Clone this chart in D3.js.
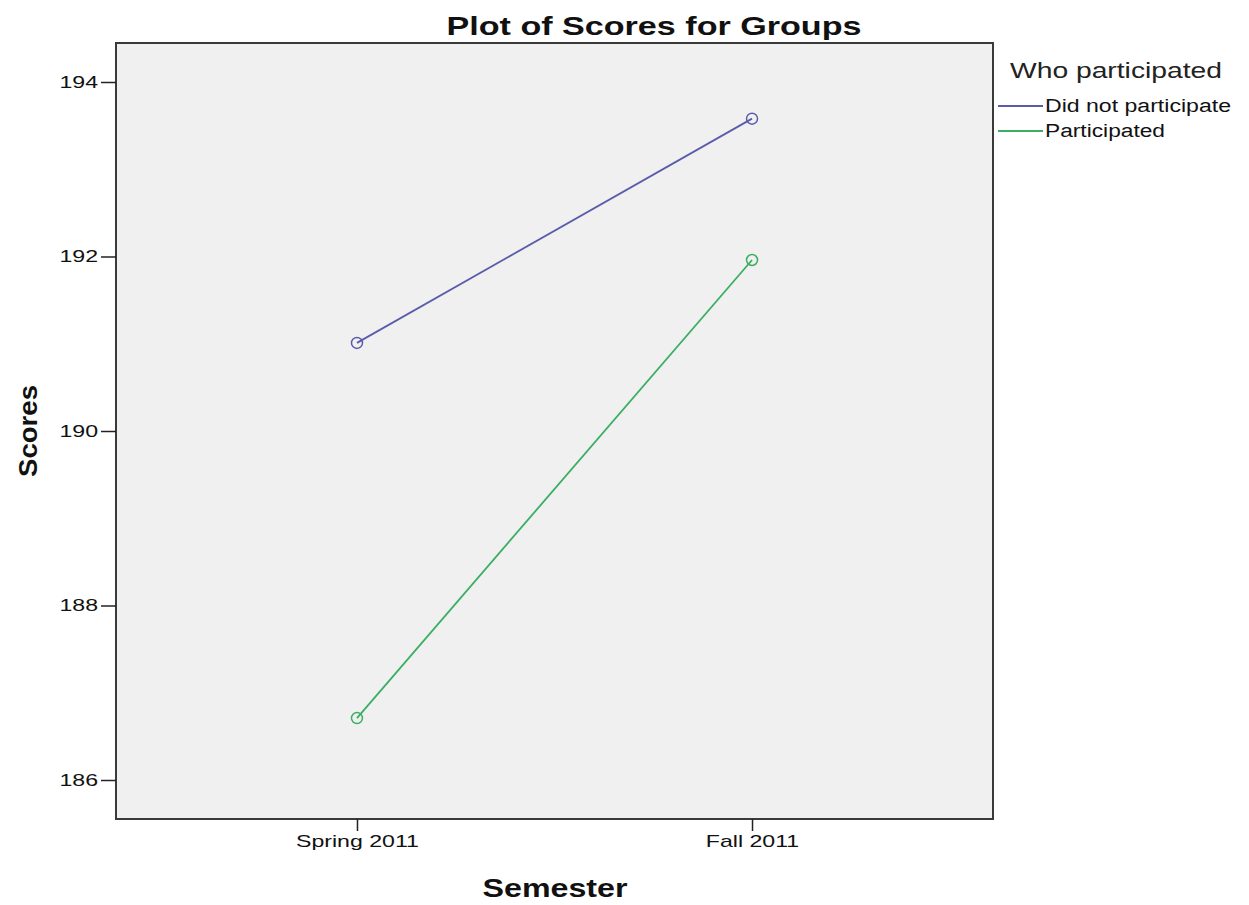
<!DOCTYPE html>
<html><head><meta charset="utf-8">
<script src="https://cdn.jsdelivr.net/npm/d3@7"></script>
<style>body{margin:0;background:#fff;} text{font-family:Arial,"Liberation Sans",sans-serif;}</style>
</head><body>
<svg id="c" width="1249" height="905"></svg>
<script>
const categories = ["Spring 2011", "Fall 2011"];
const seriesNames = ["Did not participate", "Participated"];
const didNotParticipate = [191.01, 193.58];
const participated = [186.71, 191.96];
const yTicks = [186, 188, 190, 192, 194];
const colors = ["#5a5caa", "#3aae62"];

const svg = d3.select("#c");
const L = 116, T = 43, R = 993, B = 819;
const x = d3.scalePoint().domain(categories).range([L, R]).padding(0.61);
const y = d3.scaleLinear().domain([185.553, 194.447]).range([B, T]);

svg.append("rect").attr("x", L).attr("y", T).attr("width", R - L).attr("height", B - T)
  .attr("fill", "#f0f0f0").attr("stroke", "#3a3a3a").attr("stroke-width", 2);

const stretch = 1.36;
function fitText(sel) {
  sel.each(function() {
    const w = this.getComputedTextLength();
    d3.select(this).attr("textLength", w * stretch).attr("lengthAdjust", "spacingAndGlyphs");
  });
}

const yAxis = svg.append("g").attr("transform", `translate(${L},0)`)
  .call(d3.axisLeft(y).tickValues(yTicks).tickSize(15).tickPadding(3).tickFormat(d3.format("d")));
const xAxis = svg.append("g").attr("transform", `translate(0,${B})`)
  .call(d3.axisBottom(x).tickSize(12).tickPadding(4));
[yAxis, xAxis].forEach(a => {
  a.select(".domain").remove();
  a.selectAll("line").attr("stroke", "#222").attr("stroke-width", 1.5);
  a.selectAll("text").attr("font-size", 17).attr("fill", "#111").call(fitText);
});

const data = [didNotParticipate, participated];
const line = d3.line().x((d, i) => x(categories[i])).y(d => y(d));
data.forEach((s, k) => {
  svg.append("path").datum(s).attr("d", line).attr("fill", "none")
    .attr("stroke", colors[k]).attr("stroke-width", 1.8);
  svg.selectAll(null).data(s).enter().append("circle")
    .attr("cx", (d, i) => x(categories[i])).attr("cy", d => y(d)).attr("r", 5.5)
    .attr("fill", "none").attr("stroke", colors[k]).attr("stroke-width", 1.5);
});

svg.append("text").attr("x", 654).attr("y", 35).attr("text-anchor", "middle")
  .attr("font-size", 26).attr("font-weight", "bold").attr("fill", "#111")
  .attr("textLength", 415).attr("lengthAdjust", "spacingAndGlyphs").text("Plot of Scores for Groups");
svg.append("text").attr("x", 555).attr("y", 897).attr("text-anchor", "middle")
  .attr("font-size", 26).attr("font-weight", "bold").attr("fill", "#111")
  .attr("textLength", 145).attr("lengthAdjust", "spacingAndGlyphs").text("Semester");
svg.append("text").attr("transform", "translate(37,431) rotate(-90)").attr("text-anchor", "middle")
  .attr("font-size", 26).attr("font-weight", "bold").attr("fill", "#111")
  .attr("textLength", 92).attr("lengthAdjust", "spacingAndGlyphs").text("Scores");

const lg = svg.append("g");
lg.append("text").attr("x", 1010).attr("y", 78).attr("font-size", 22).attr("fill", "#222")
  .attr("textLength", 212).attr("lengthAdjust", "spacingAndGlyphs").text("Who participated");
const legendLens = [186, 120];
seriesNames.forEach((n, i) => {
  const yy = 106 + i * 25;
  lg.append("line").attr("x1", 998).attr("x2", 1043).attr("y1", yy).attr("y2", yy)
    .attr("stroke", colors[i]).attr("stroke-width", 1.8);
  lg.append("text").attr("x", 1045).attr("y", yy + 6).attr("font-size", 18).attr("fill", "#111")
    .attr("textLength", legendLens[i]).attr("lengthAdjust", "spacingAndGlyphs").text(n);
});
</script>
</body></html>
